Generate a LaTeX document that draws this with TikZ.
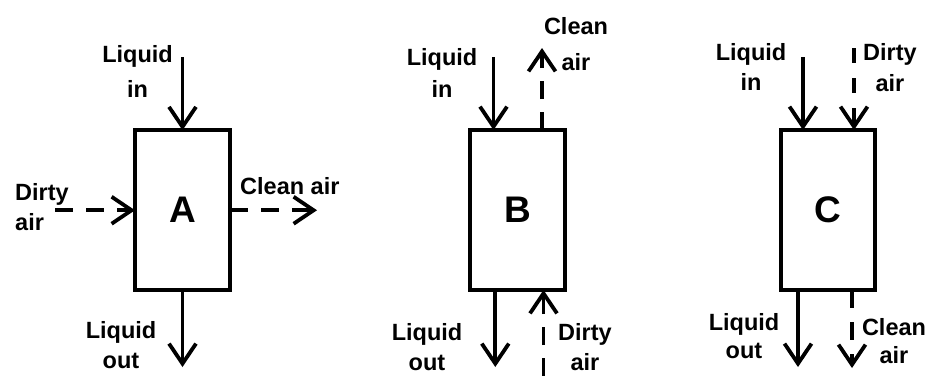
\documentclass[tikz,border=0pt]{standalone}
\usepackage{fontspec}
\setmainfont{Liberation Sans}
\usetikzlibrary{arrows.meta}
\begin{document}
\begin{tikzpicture}[x=1pt,y=-1pt,
  vessel/.style={draw, line width=3.8pt, rectangle, inner sep=0pt, outer sep=0pt,
    minimum width=95pt, minimum height=160pt, font=\bfseries\fontsize{37}{40}\selectfont},
  flow/.style={line width=3.8pt, -{Straight Barb[length=20pt,width=27pt]}},
  airflow/.style={flow, dash pattern=on 18pt off 13pt},
  lbl/.style={font=\bfseries\fontsize{23.5}{#1}\selectfont, align=center, inner sep=0pt, anchor=base},
  lbl/.default=30pt
]
\useasboundingbox (0,0) rectangle (931,375);
% boxes
\node[vessel] (A) at (182.5,210.25) {A};
\node[vessel] (B) at (517.5,210) {B};
\node[vessel, minimum width=94pt] (C) at (828,210) {C};
% ---- A ----
\coordinate (liA) at (182.5,57);
\coordinate (loA) at (182.5,367);
\coordinate (daA) at (55,210.25);
\coordinate (caA) at (317,210.25);
\draw[flow] (liA) -- (A.north);
\draw[flow] (A.south) -- (loA);
\draw[airflow] (daA) -- (A.west);
\draw[airflow] (A.east) -- (caA);
\node[lbl=35pt] (tliA) at (137.5,97) {Liquid\\in};
\node[lbl=30pt, align=left, anchor=base west] (tdaA) at (15,230) {Dirty\\air};
\node[lbl, anchor=base west] (tcaA) at (240,194) {Clean air};
\node[lbl=30pt] (tloA) at (121,368) {Liquid\\out};
% ---- B ----
\coordinate (liB) at (493.5,57);
\coordinate (loB) at (495.3,367);
\coordinate (caB) at (542,48);
\coordinate (daB) at (543.5,376);
\draw[flow] (liB) -- (liB |- B.north);
\draw[flow] (loB |- B.south) -- (loB);
\draw[airflow] (caB |- B.north) -- (caB);
\draw[airflow] (daB) -- (daB |- B.south);
\node[lbl=32pt] (tliB) at (442,97) {Liquid\\in};
\node[lbl=36pt] (tcaB) at (576,70) {Clean\\air};
\node[lbl=30pt] (tloB) at (427,370) {Liquid\\out};
\node[lbl=30pt] (tdaB) at (585,370) {Dirty\\air};
% ---- C ----
\coordinate (liC) at (803,57);
\coordinate (daC) at (854,48);
\coordinate (loC) at (798,367);
\coordinate (caC) at (852,368);
\draw[flow] (liC) -- (liC |- C.north);
\draw[airflow, dash pattern=on 15pt off 15pt] (daC) -- (daC |- C.north);
\draw[flow] (loC |- C.south) -- (loC);
\draw[airflow, dash pattern=on 18pt off 14pt] (caC |- C.south) -- (caC);
\node[lbl=30pt] (tliC) at (751,90) {Liquid\\in};
\node[lbl=31pt] (tdaC) at (890,91) {Dirty\\air};
\node[lbl=28pt] (tloC) at (744,358) {Liquid\\out};
\node[lbl=28pt] (tcaC) at (894,363) {Clean\\air};
\end{tikzpicture}
\end{document}
